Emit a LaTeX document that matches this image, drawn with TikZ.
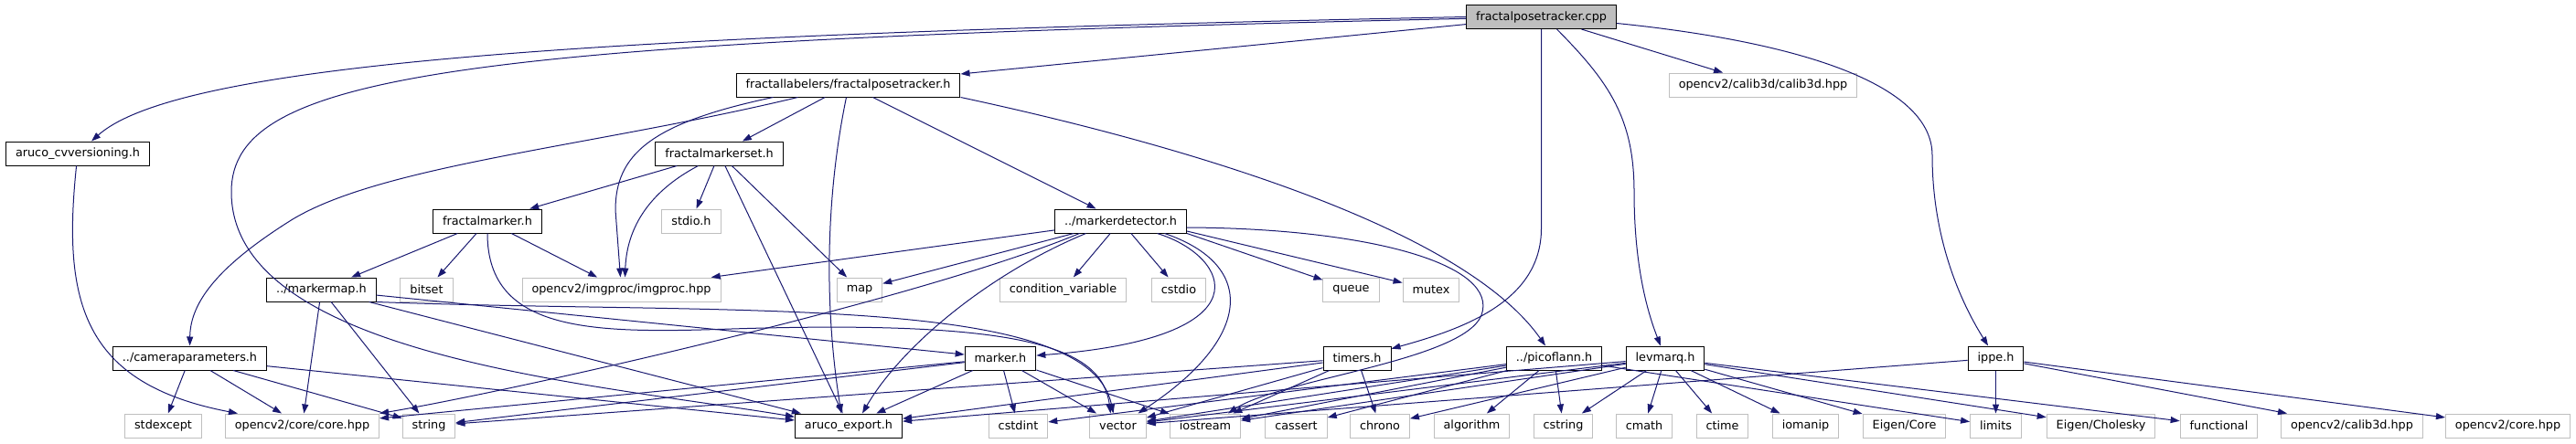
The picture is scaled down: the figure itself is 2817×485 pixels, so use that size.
\documentclass[tikz,border=0pt]{standalone}
\usepackage{fontspec}
\setmainfont{DejaVu Sans}
\usetikzlibrary{arrows.meta}
\definecolor{edgeblue}{HTML}{191970}
\definecolor{extgrey}{HTML}{BFBFBF}
\tikzstyle{hfile} = [rectangle, minimum height=26pt, inner xsep=10.5pt, inner ysep=0pt,
    text centered, draw=black, fill=white, line width=1pt, font=\fontsize{12.8pt}{15pt}\selectfont]
\tikzstyle{sysfile} = [hfile, draw=extgrey]
\tikzstyle{rootfile} = [hfile, fill=extgrey]
\tikzstyle{incl} = [line width=1pt, edgeblue, ->, >={Triangle[length=10pt,width=7pt]}]

\begin{document}
\begin{tikzpicture}[x=1pt,y=-1pt]
                \useasboundingbox (0,0) rectangle (2817,485);
                \node (root) [rootfile] at (1685.5,18.5) {fractalposetracker.cpp};
                \node (fpth) [hfile] at (927.5,93) {fractallabelers/fractalposetracker.h};
                \node (calibold) [sysfile] at (1928,93) {opencv2/calib3d/calib3d.hpp};
                \node (cvver) [hfile] at (85,168) {aruco\_cvversioning.h};
                \node (fmset) [hfile] at (786.5,168) {fractalmarkerset.h};
                \node (fmarker) [hfile] at (533,242) {fractalmarker.h};
                \node (stdio) [sysfile] at (756,242) {stdio.h};
                \node (mdet) [hfile] at (1225.5,242) {../markerdetector.h};
                \node (mmap) [hfile] at (351.5,317) {../markermap.h};
                \node (bitset) [sysfile] at (466.5,317) {bitset};
                \node (imgproc) [sysfile] at (679.5,317) {opencv2/imgproc/imgproc.hpp};
                \node (map) [sysfile] at (940,317) {map};
                \node (condvar) [sysfile] at (1162.5,317) {condition\_variable};
                \node (cstdio) [sysfile] at (1289,317) {cstdio};
                \node (queue) [sysfile] at (1477.5,317) {queue};
                \node (mutex) [sysfile] at (1565,317) {mutex};
                \node (campar) [hfile] at (207.5,392) {../cameraparameters.h};
                \node (marker) [hfile] at (1094,392) {marker.h};
                \node (timers) [hfile] at (1484,392) {timers.h};
                \node (picoflann) [hfile] at (1699.5,392) {../picoflann.h};
                \node (levmarq) [hfile] at (1821,392) {levmarq.h};
                \node (ippe) [hfile] at (2182.5,392) {ippe.h};
                \node (stdexcept) [sysfile] at (178.5,466) {stdexcept};
                \node (corecore) [sysfile] at (330.5,466) {opencv2/core/core.hpp};
                \node (string) [sysfile] at (469,466) {string};
                \node (export) [hfile] at (928,466) {aruco\_export.h};
                \node (cstdint) [sysfile] at (1113.5,466) {cstdint};
                \node (vector) [sysfile] at (1222.5,466) {vector};
                \node (iostream) [sysfile] at (1318,466) {iostream};
                \node (cassert) [sysfile] at (1417.5,466) {cassert};
                \node (chrono) [sysfile] at (1509,466) {chrono};
                \node (algorithm) [sysfile] at (1609.5,466) {algorithm};
                \node (cstring) [sysfile] at (1709.5,466) {cstring};
                \node (cmath) [sysfile] at (1798,466) {cmath};
                \node (ctime) [sysfile] at (1883.5,466) {ctime};
                \node (iomanip) [sysfile] at (1974.5,466) {iomanip};
                \node (eigencore) [sysfile] at (2082.5,466) {Eigen/Core};
                \node (limits) [sysfile] at (2182.5,466) {limits};
                \node (cholesky) [sysfile] at (2297.5,466) {Eigen/Cholesky};
                \node (functional) [sysfile] at (2426.5,466) {functional};
                \node (calib) [sysfile] at (2572,466) {opencv2/calib3d.hpp};
                \node (core) [sysfile] at (2742.5,466) {opencv2/core.hpp};

                % fractalposetracker.cpp
                \draw [incl] (root.west) .. controls (700,37) and (200,65) .. (cvver);
                \draw [incl] (root) -- (fpth);
                \draw [incl] (root) .. controls (500,45) and (253,80) .. (253,210) .. controls (253,390) and (650,420) .. (export);
                \draw [incl] (root.south) -- (1685.5,250) .. controls (1685.5,330) and (1600,360) .. (timers);
                \draw [incl] ([xshift=17pt]root.south) .. controls (1760,90) and (1787,130) .. (1787,210) .. controls (1787,300) and (1805,350) .. (levmarq);
                \draw [incl] (root) -- (calibold);
                \draw [incl] ([yshift=-7pt]root.east) .. controls (1960,45) and (2113,90) .. (2113,170) .. controls (2113,270) and (2150,340) .. (ippe);
                \draw [incl] (cvver) .. controls (68,330) and (90,420) .. (corecore);

                % fractallabelers/fractalposetracker.h
                \draw [incl] ([xshift=-55pt]fpth.south) .. controls (650,160) and (420,180) .. (320,240) .. controls (240,290) and (208,330) .. (campar);
                \draw [incl] ([xshift=-82pt]fpth.south) .. controls (710,135) and (673,170) .. (673,230) -- (imgproc);
                \draw [incl] (fpth) -- (fmset);
                \draw [incl] ([xshift=-2pt]fpth.south) .. controls (902,220) and (902,340) .. ([xshift=-8pt]export.north);
                \draw [incl] (fpth) -- (mdet);
                \draw [incl] (fpth.south east) .. controls (1300,160) and (1600,250) .. (picoflann);

                % fractalmarkerset.h, fractalmarker.h, markermap.h
                \draw [incl] (fmset) -- (fmarker);
                \draw [incl] ([xshift=-23pt]fmset.south) .. controls (700,215) and (685,260) .. ([xshift=4pt]imgproc.north);
                \draw [incl] (fmset) -- (stdio);
                \draw [incl] (fmset) -- (export);
                \draw [incl] (fmset) -- (map);
                \draw [incl] (fmarker) -- (mmap);
                \draw [incl] (fmarker) -- (bitset);
                \draw [incl] (fmarker) -- (imgproc);
                \draw [incl] (fmarker.south) .. controls (533,365) and (650,365) .. (800,360) .. controls (1120,350) and (1205,380) .. ([xshift=-8pt]vector.north);
                \draw [incl] (mmap) -- (corecore);
                \draw [incl] (mmap) -- (string);
                \draw [incl] (mmap) -- (marker);
                \draw [incl] (mmap.south east) .. controls (800,345) and (1190,320) .. ([xshift=-5pt]vector.north);
                \draw [incl] (mmap) -- (export);
                \draw [incl] (campar) -- (stdexcept);
                \draw [incl] (campar) -- (corecore);
                \draw [incl] (campar) -- (string);
                \draw [incl] (campar) -- (export);

                % markerdetector.h
                \draw [incl] (mdet) -- (imgproc);
                \draw [incl] (mdet) -- (map);
                \draw [incl] ([xshift=-45pt]mdet.south) .. controls (1000,330) and (550,430) .. (corecore.north east);
                \draw [incl] ([xshift=-38pt]mdet.south) .. controls (1080,300) and (985,380) .. ([xshift=15pt]export.north);
                \draw [incl] (mdet) -- (condvar);
                \draw [incl] (mdet) -- (cstdio);
                \draw [incl] ([xshift=40pt]mdet.south) .. controls (1345,280) and (1390,370) .. (marker);
                \draw [incl] ([xshift=48pt]mdet.south) .. controls (1375,290) and (1370,370) .. ([xshift=22pt]vector.north);
                \draw [incl] (mdet.south east) -- (queue);
                \draw [incl] ([yshift=-11pt]mdet.east) -- (mutex);
                \draw [incl] ([yshift=-7pt]mdet.east) .. controls (1500,250) and (1640,290) .. (1620,345) .. controls (1600,395) and (1400,415) .. ([xshift=25pt]iostream.north);

                % marker.h, timers.h
                \draw [incl] (marker) -- (export);
                \draw [incl] (marker) -- (cstdint);
                \draw [incl] (marker) -- (vector);
                \draw [incl] (marker) -- (iostream);
                \draw [incl] (marker) -- (corecore);
                \draw [incl] (marker) -- (string);
                \draw [incl] (timers) -- (chrono);
                \draw [incl] (timers) -- (string);
                \draw [incl] (timers) -- (vector);
                \draw [incl] (timers) -- (iostream);
                \draw [incl] (timers) -- (export);

                % picoflann.h
                \draw [incl] (picoflann) -- (algorithm);
                \draw [incl] (picoflann) -- (cstring);
                \draw [incl] (picoflann) -- (cassert);
                \draw [incl] (picoflann) -- (vector);
                \draw [incl] (picoflann) -- (iostream);
                \draw [incl] (picoflann) -- (limits);
                \draw [incl] (picoflann) -- (cstdint);

                % levmarq.h
                \draw [incl] (levmarq) -- (cstring);
                \draw [incl] (levmarq) -- (cmath);
                \draw [incl] (levmarq) -- (ctime);
                \draw [incl] (levmarq) -- (iomanip);
                \draw [incl] (levmarq) -- (eigencore);
                \draw [incl] (levmarq) -- (cholesky);
                \draw [incl] (levmarq) -- (functional);
                \draw [incl] (levmarq) -- (chrono);
                \draw [incl] (levmarq) -- (vector);
                \draw [incl] (levmarq) -- (iostream);
                \draw [incl] (levmarq) -- (export);

                % ippe.h
                \draw [incl] (ippe) -- (limits);
                \draw [incl] (ippe) -- (calib);
                \draw [incl] (ippe) -- (core);
                \draw [incl] (ippe) -- (vector);
            \end{tikzpicture}
\end{document}
